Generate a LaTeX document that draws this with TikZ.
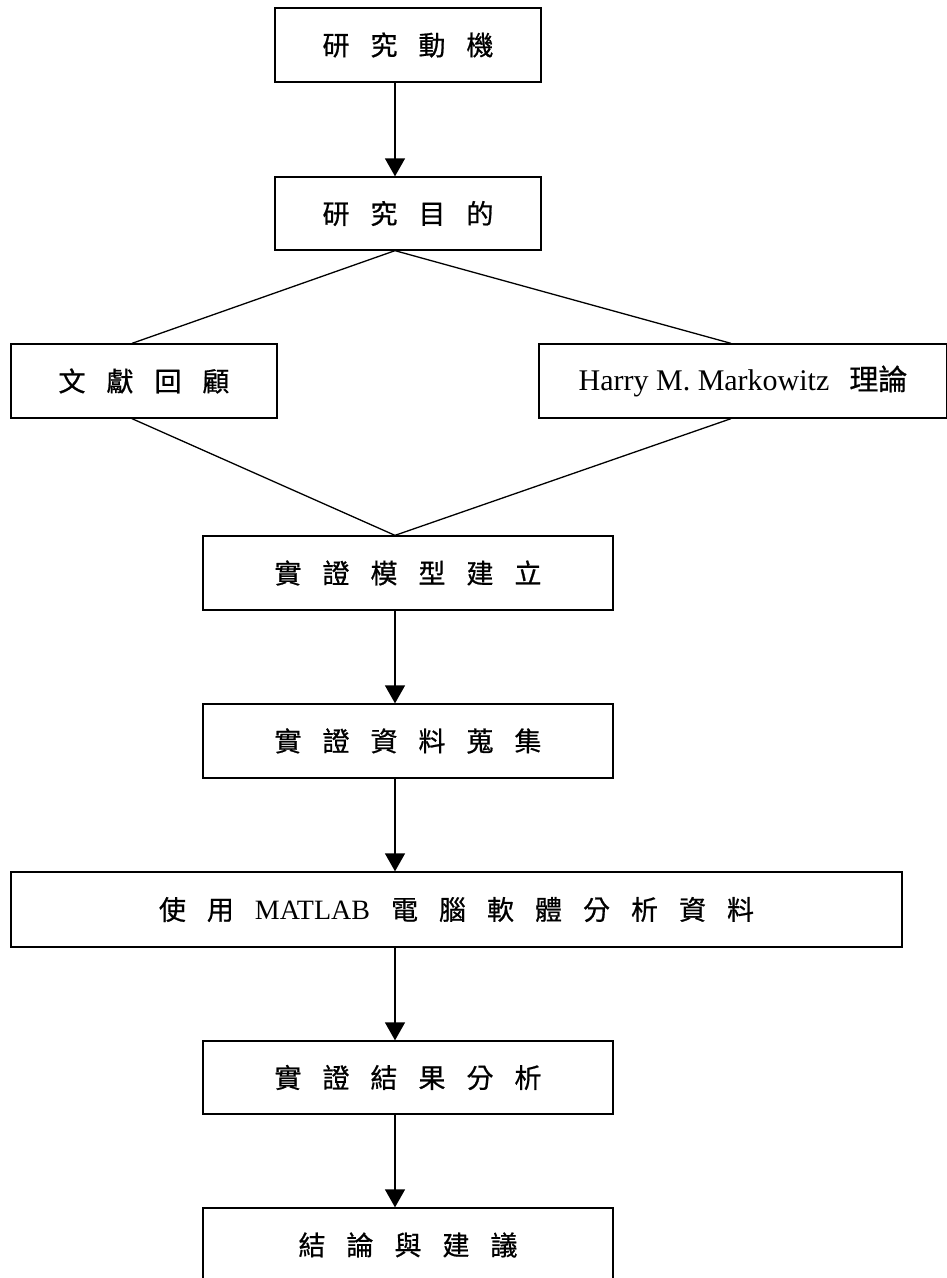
\documentclass[tikz,border=0pt]{standalone}
\usepackage{fontspec}
\setmainfont{Liberation Serif}
\newfontfamily\cjk{Noto Sans CJK TC}[FakeBold=0.7]
\newcommand\cjfont{\cjk\fontsize{27}{30}\selectfont\spaceskip=21pt\relax}
\newcommand\latfont{\rmfamily\fontsize{30}{32}\selectfont}
\usetikzlibrary{arrows.meta}
\begin{document}
\begin{tikzpicture}[x=1pt,y=-1pt,
  box/.style={draw, line width=1.3pt, inner sep=0pt, align=center},
  cj/.style={font=\cjfont},
  lat/.style={font=\latfont},
  arr/.style={line width=1.3pt, -{Triangle[width=20pt,length=18pt]}},
  ln/.style={line width=1.3pt}]
\useasboundingbox (0,0) rectangle (946,1278);
\coordinate (spine) at (395,0);
\coordinate (lt) at (132,0);
\coordinate (rt) at (731,0);
\node[box,cj,minimum width=266pt,minimum height=74pt] (b1) at (408,45) {研 究 動 機};
\node[box,cj,minimum width=266pt,minimum height=73pt] (b2) at (408,213.5) {研 究 目 的};
\node[box,cj,minimum width=266pt,minimum height=74pt] (lit) at (144,381) {文 獻 回 顧};
\node[box,lat,minimum width=408pt,minimum height=74pt] (mk) at (743,381) {Harry M. Markowitz\hspace{20pt}{\cjk\fontsize{29}{32}\selectfont 理論}};
\node[box,cj,minimum width=410pt,minimum height=74pt] (mod) at (408,573) {實 證 模 型 建 立};
\node[box,cj,minimum width=410pt,minimum height=74pt] (dat) at (408,741) {實 證 資 料 蒐 集};
\node[box,cj,minimum width=891pt,minimum height=75pt] (mat) at (456.5,909.5) {使 用 {\rmfamily\fontsize{28}{30}\selectfont MATLAB} 電 腦 軟 體 分 析 資 料};
\node[box,cj,minimum width=410pt,minimum height=73pt] (res) at (408,1077.5) {實 證 結 果 分 析};
\node[box,cj,minimum width=410pt,minimum height=74pt] (con) at (408,1245) {結 論 與 建 議};
\draw[arr] (b1.south -| spine) -- (b2.north -| spine);
\draw[ln] (lt |- lit.north) -- (b2.south -| spine) -- (rt |- mk.north);
\draw[ln] (lt |- lit.south) -- (mod.north -| spine) -- (rt |- mk.south);
\draw[arr] (mod.south -| spine) -- (dat.north -| spine);
\draw[arr] (dat.south -| spine) -- (mat.north -| spine);
\draw[arr] (mat.south -| spine) -- (res.north -| spine);
\draw[arr] (res.south -| spine) -- (con.north -| spine);
\end{tikzpicture}
\end{document}
